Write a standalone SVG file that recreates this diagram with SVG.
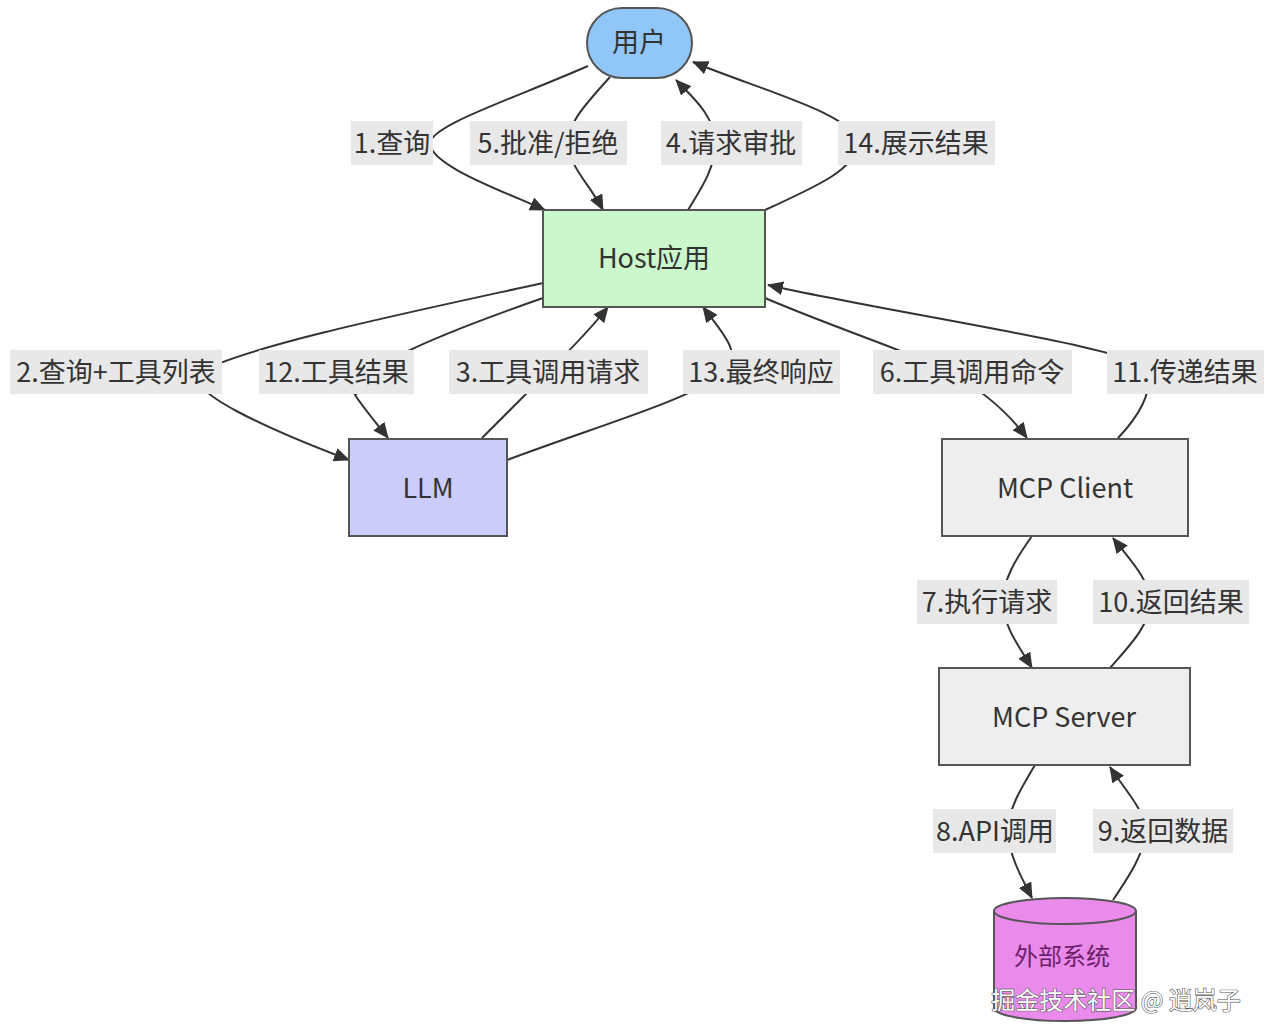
<svg xmlns="http://www.w3.org/2000/svg" width="1274" height="1028" viewBox="0 0 1274 1028">
<style>
text{font-family:"Noto Sans CJK SC","Noto Sans",sans-serif;font-size:27px;fill:#333;text-anchor:middle;dominant-baseline:central}
.node{stroke:#555;stroke-width:2}
.edge{fill:none;stroke:#333;stroke-width:2}
.lbl{fill:#e8e8e8}
</style>
<defs>
<marker id="arr" viewBox="0 0 16 14" refX="15" refY="7" markerWidth="16" markerHeight="14" markerUnits="userSpaceOnUse" orient="auto">
<path d="M0,0 L16,7 L0,14 z" fill="#333"/>
</marker>
</defs>
<rect width="1274" height="1028" fill="#fff"/>
<g id="connectors">
<path class="edge" marker-end="url(#arr)" d="M588,66 C510,100 432,125 430,143 C430,165 500,190 545,210"/>
<path class="edge" marker-end="url(#arr)" d="M610,77 C580,110 568,125 568,143 C568,165 590,185 603,210"/>
<path class="edge" marker-end="url(#arr)" d="M688,210 C700,190 715,170 715,143 C715,115 690,95 676,80"/>
<path class="edge" marker-end="url(#arr)" d="M765,210 C820,185 857,168 857,143 C857,115 760,90 693,62"/>
<path class="edge" marker-end="url(#arr)" d="M543,283 C420,310 250,345 200,372 C180,390 270,430 349,460"/>
<path class="edge" marker-end="url(#arr)" d="M543,298 C480,320 430,340 404,353 L355,395 C365,410 378,425 388,438"/>
<path class="edge" marker-end="url(#arr)" d="M482,438 C505,415 525,395 548,372 C570,350 590,330 608,307"/>
<path class="edge" marker-end="url(#arr)" d="M507,460 C600,425 690,400 725,372 C745,355 720,330 703,307"/>
<path class="edge" marker-end="url(#arr)" d="M765,298 C840,330 905,350 950,372 C985,392 1010,415 1027,438"/>
<path class="edge" marker-end="url(#arr)" d="M1118,438 C1140,415 1150,395 1150,372 C1150,350 900,315 768,285"/>
<path class="edge" marker-end="url(#arr)" d="M1032,536 C1015,560 1003,580 1003,602 C1003,625 1018,645 1032,668"/>
<path class="edge" marker-end="url(#arr)" d="M1110,668 C1130,645 1150,625 1150,602 C1150,580 1130,560 1113,538"/>
<path class="edge" marker-end="url(#arr)" d="M1035,765 C1020,790 1008,810 1008,831 C1008,852 1020,875 1032,898"/>
<path class="edge" marker-end="url(#arr)" d="M1113,900 C1130,875 1145,852 1145,831 C1145,810 1125,790 1110,767"/>
</g>
<g id="edge-labels">
<rect class="lbl" x="351" y="121" width="82" height="44"/><text x="392" y="141">1.查询</text>
<rect class="lbl" x="470" y="121" width="157" height="44"/><text x="548" y="141">5.批准/拒绝</text>
<rect class="lbl" x="661" y="121" width="141" height="44"/><text x="731" y="141">4.请求审批</text>
<rect class="lbl" x="838" y="121" width="157" height="44"/><text x="916" y="141">14.展示结果</text>
<rect class="lbl" x="10" y="350" width="212" height="44"/><text x="116" y="370">2.查询+工具列表</text>
<rect class="lbl" x="259" y="350" width="155" height="44"/><text x="336" y="370">12.工具结果</text>
<rect class="lbl" x="449" y="350" width="199" height="44"/><text x="548" y="370">3.工具调用请求</text>
<rect class="lbl" x="683" y="350" width="157" height="44"/><text x="761" y="370">13.最终响应</text>
<rect class="lbl" x="873" y="350" width="199" height="44"/><text x="972" y="370">6.工具调用命令</text>
<rect class="lbl" x="1107" y="350" width="157" height="44"/><text x="1185" y="370">11.传递结果</text>
<rect class="lbl" x="917" y="580" width="140" height="44"/><text x="987" y="600">7.执行请求</text>
<rect class="lbl" x="1093" y="580" width="156" height="44"/><text x="1171" y="600">10.返回结果</text>
<rect class="lbl" x="933" y="809" width="123" height="44"/><text x="995" y="829">8.API调用</text>
<rect class="lbl" x="1093" y="809" width="140" height="44"/><text x="1163" y="829">9.返回数据</text>
</g>
<g id="node-user">
<rect class="node" x="587" y="8" width="105" height="70" rx="35" ry="35" fill="#90c6f8"/>
<text x="639" y="40">用户</text>
</g>
<g id="node-host">
<rect class="node" x="543" y="210" width="222" height="97" fill="#ccf7cc"/>
<text x="654" y="256">Host应用</text>
</g>
<g id="node-llm">
<rect class="node" x="349" y="439" width="158" height="97" fill="#ccccfa"/>
<text x="428" y="486">LLM</text>
</g>
<g id="node-client">
<rect class="node" x="942" y="439" width="246" height="97" fill="#eeeeee"/>
<text x="1065" y="486">MCP Client</text>
</g>
<g id="node-server">
<rect class="node" x="939" y="668" width="251" height="97" fill="#eeeeee"/>
<text x="1064" y="715">MCP Server</text>
</g>
<g id="node-external">
<path class="node" fill="#ea8aea" d="M994,911 L994,1008 A71,13 0 0,0 1136,1008 L1136,911"/>
<ellipse class="node" cx="1065" cy="911" rx="71" ry="13" fill="#ea8aea"/>
<text x="1062" y="954" style="fill:#6a1f6a;font-size:24px">外部系统</text>
</g>
<text x="1116" y="998" style="fill:#fff;stroke:#555;stroke-width:1.2;paint-order:stroke;font-size:24px">掘金技术社区 @ 逍岚子</text>
</svg>
